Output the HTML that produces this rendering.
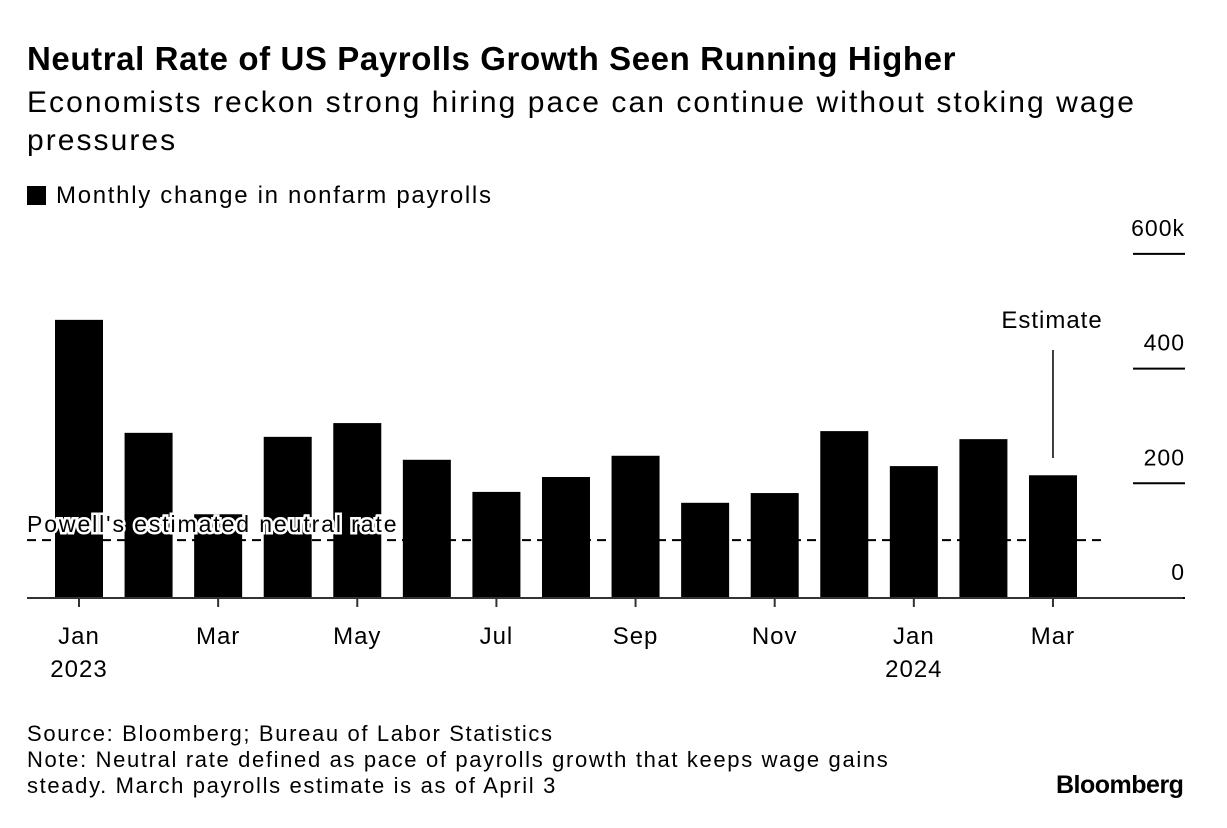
<!DOCTYPE html>
<html><head><meta charset="utf-8"><style>
body{margin:0;width:1227px;height:828px;background:#fff;font-family:"Liberation Sans",sans-serif;color:#000;position:relative;overflow:hidden}
.t{position:absolute;white-space:nowrap}
</style></head><body>
<div class="t" style="left:27px;top:40px;font-size:33px;font-weight:bold;letter-spacing:0.6px">Neutral Rate of US Payrolls Growth Seen Running Higher</div>
<div class="t" style="left:27px;top:84px;font-size:30px;line-height:38px;letter-spacing:2.05px">Economists reckon strong hiring pace can continue without stoking wage<br>pressures</div>
<div class="t" style="left:27px;top:182px;font-size:24px;letter-spacing:1.7px"><span style="display:inline-block;width:19px;height:19px;background:#000;vertical-align:-2px;margin-right:10px"></span>Monthly change in nonfarm payrolls</div>
<svg id="chart" width="1227" height="828" style="position:absolute;left:0;top:0" font-family="Liberation Sans, sans-serif"></svg>
<div class="t" style="left:27px;top:721px;font-size:22px;line-height:26px;letter-spacing:1.65px">Source: Bloomberg; Bureau of Labor Statistics<br>Note: Neutral rate defined as pace of payrolls growth that keeps wage gains<br>steady. March payrolls estimate is as of April 3</div>
<div class="t" style="left:1056px;top:771px;font-size:25px;font-weight:bold;letter-spacing:-0.5px">Bloomberg</div>
<script>
const months=["Jan","Feb","Mar","Apr","May","Jun","Jul","Aug","Sep","Oct","Nov","Dec","Jan","Feb","Mar"];
const years=["2023","","","","","","","","","","","","2024","",""];
const payrolls=[485,288,146,281,305,241,185,211,248,166,183,291,230,277,214];
const yTicks=[0,200,400,600];
const yTickLabels=["0","200","400","600k"];
const neutralRate=101;
const NS="http://www.w3.org/2000/svg";
const svg=document.getElementById('chart');
const y=v=>598-v*0.5735;
const x=i=>79+i*69.57;
function mk(t,a){const e=document.createElementNS(NS,t);for(const k in a)e.setAttribute(k,a[k]);svg.appendChild(e);return e;}
payrolls.forEach((v,i)=>{const r=mk('rect',{x:x(i)-24,y:y(v),width:48,height:598-y(v),fill:'#000'});

});
yTicks.forEach((v,i)=>{const l=mk('line',{x1:1133,x2:1185,y1:y(v),y2:y(v),stroke:'#000','stroke-width':2});
if(v===0)l.setAttribute('x1',27);


const t=mk('text',{x:1185,y:y(v)-18,'font-size':23,'text-anchor':'end','letter-spacing':1});t.textContent=yTickLabels[i];

});
const ax=mk('line',{x1:27,x2:1183,y1:598,y2:598,stroke:'#333','stroke-width':2});


months.forEach((m,i)=>{if(i%2)return;
const tk=mk('line',{x1:x(i),x2:x(i),y1:598,y2:607,stroke:'#333','stroke-width':2});


const t=mk('text',{x:x(i),y:644,'font-size':24,'text-anchor':'middle','letter-spacing':1});t.textContent=m;


if(years[i]){const t2=mk('text',{x:x(i),y:677,'font-size':24,'text-anchor':'middle','letter-spacing':1});t2.textContent=years[i];

}});
const nl=mk('line',{x1:27,x2:1105,y1:y(neutralRate),y2:y(neutralRate),stroke:'#000','stroke-width':2,'stroke-dasharray':'9,6'});


const nt=mk('text',{x:27,y:y(neutralRate)-8,'font-size':23,'letter-spacing':1.9,stroke:'#fff','stroke-width':5,'paint-order':'stroke'});nt.textContent="Powell's estimated neutral rate";


const el=mk('line',{x1:x(14),x2:x(14),y1:350,y2:458,stroke:'#000','stroke-width':1.5});


const et=mk('text',{x:1052,y:328,'font-size':24,'text-anchor':'middle','letter-spacing':1});et.textContent="Estimate";


</script>
</body></html>
